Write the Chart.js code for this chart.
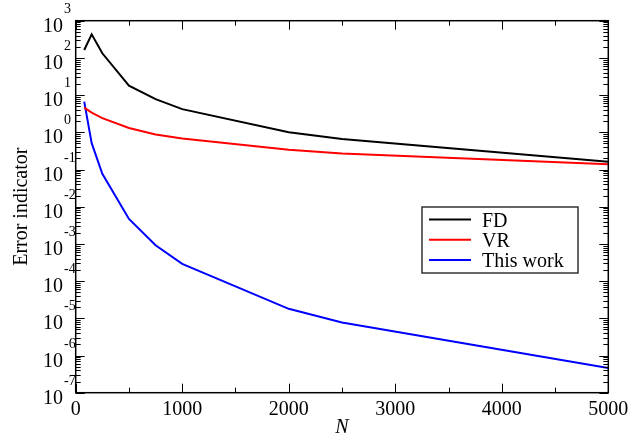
<!DOCTYPE html>
<html>
<head>
<meta charset="utf-8">
<script src="https://cdn.jsdelivr.net/npm/chart.js@4.4.1/dist/chart.umd.min.js"></script>
<style>
html,body{margin:0;padding:0;background:#fff;}
#wrap{width:643px;height:435px;}
</style>
</head>
<body>
<div id="wrap"><canvas id="c" width="643" height="435"></canvas></div>
<script>
// ---- data ----
const N = [80, 150, 250, 500, 750, 1000, 2000, 2500, 5000];
const FD = [163, 430, 133, 18, 7.8, 4.2, 1.0, 0.66, 0.162];
const VR = [4.6, 3.4, 2.4, 1.3, 0.87, 0.68, 0.34, 0.27, 0.138];
const THIS_WORK = [6.7, 0.51, 0.077, 0.0047, 9.2e-4, 2.9e-4, 1.8e-5, 7.7e-6, 4.6e-7];
const seriesNames = ['FD', 'VR', 'This work'];
const seriesColors = ['#000000', '#ff0000', '#0000ff'];
const xTicks = [0, 1000, 2000, 3000, 4000, 5000];
const xMinorTicks = [500, 1500, 2500, 3500, 4500];
const yExponents = [3, 2, 1, 0, -1, -2, -3, -4, -5, -6, -7];
const xTitle = 'N';
const yTitle = 'Error indicator';

const FONT = '"Liberation Serif", "Times New Roman", serif';

function pts(ys){ return N.map((n,i)=>({x:n, y:ys[i]})); }

const decorations = {
  id: 'decorations',
  afterDraw(chart){
    const ctx = chart.ctx;
    const a = chart.chartArea;
    const xs = chart.scales.x, ys = chart.scales.y;
    ctx.save();
    ctx.strokeStyle = '#000';
    ctx.fillStyle = '#000';
    // frame
    ctx.lineWidth = 1.5;
    ctx.strokeRect(a.left, a.top, a.right - a.left, a.bottom - a.top);
    ctx.lineWidth = 1;
    // x ticks (inward, top and bottom)
    ctx.beginPath();
    xTicks.forEach(v=>{
      const px = Math.round(xs.getPixelForValue(v)) + 0.5;
      ctx.moveTo(px, a.bottom); ctx.lineTo(px, a.bottom - 9);
      ctx.moveTo(px, a.top); ctx.lineTo(px, a.top + 9);
    });
    xMinorTicks.forEach(v=>{
      const px = Math.round(xs.getPixelForValue(v)) + 0.5;
      ctx.moveTo(px, a.bottom); ctx.lineTo(px, a.bottom - 5);
      ctx.moveTo(px, a.top); ctx.lineTo(px, a.top + 5);
    });
    // y ticks (log, inward, left and right)
    yExponents.forEach(e=>{
      const py = Math.round(ys.getPixelForValue(Math.pow(10,e))) + 0.5;
      ctx.moveTo(a.left, py); ctx.lineTo(a.left + 9, py);
      ctx.moveTo(a.right, py); ctx.lineTo(a.right - 9, py);
      if (e > -7) {
        for (let m = 2; m <= 9; m++) {
          const pm = Math.round(ys.getPixelForValue(m * Math.pow(10,e-1))) + 0.5;
          ctx.moveTo(a.left, pm); ctx.lineTo(a.left + 5, pm);
          ctx.moveTo(a.right, pm); ctx.lineTo(a.right - 5, pm);
        }
      }
    });
    ctx.stroke();
    // x tick labels
    ctx.font = '20px ' + FONT;
    ctx.textAlign = 'center';
    ctx.textBaseline = 'alphabetic';
    xTicks.forEach(v=>{
      ctx.fillText(String(v), xs.getPixelForValue(v), a.bottom + 22);
    });
    // y tick labels 10^e
    yExponents.forEach(e=>{
      const py = ys.getPixelForValue(Math.pow(10,e));
      ctx.font = '20px ' + FONT;
      ctx.textAlign = 'left';
      ctx.fillText('10', 43, py + 11);
      const w = ctx.measureText('10').width;
      ctx.font = '14px ' + FONT;
      ctx.fillText(String(e), 43 + w + 1, py - 8);
    });
    // axis titles
    ctx.font = 'italic 20px ' + FONT;
    ctx.textAlign = 'center';
    ctx.fillText(xTitle, (a.left + a.right) / 2, 433);
    ctx.save();
    ctx.translate(27, (a.top + a.bottom) / 2);
    ctx.rotate(-Math.PI / 2);
    ctx.font = '20px ' + FONT;
    ctx.fillText(yTitle, 0, 0);
    ctx.restore();
    // legend box
    const lx = 422, ly = 207, lw = 156, lh = 66;
    ctx.lineWidth = 1.5;
    ctx.strokeStyle = '#333';
    ctx.strokeRect(lx, ly, lw, lh);
    ctx.font = '20px ' + FONT;
    ctx.textAlign = 'left';
    chart.data.datasets.forEach((ds, i)=>{
      const cy = 219.5 + i * 20.3;
      ctx.strokeStyle = ds.borderColor;
      ctx.lineWidth = 2;
      ctx.beginPath();
      ctx.moveTo(429, cy); ctx.lineTo(471, cy);
      ctx.stroke();
      ctx.fillStyle = '#000';
      ctx.fillText(ds.label, 482, cy + 7);
    });
    ctx.restore();
  }
};

new Chart(document.getElementById('c'), {
  type: 'line',
  data: {
    datasets: [FD, VR, THIS_WORK].map((d, i)=>({
      label: seriesNames[i],
      data: pts(d),
      borderColor: seriesColors[i],
      backgroundColor: seriesColors[i],
      borderWidth: 2,
      pointRadius: 0,
      tension: 0,
      fill: false
    }))
  },
  options: {
    responsive: false,
    animation: false,
    devicePixelRatio: 1,
    layout: { padding: { left: 75.7, right: 34.7, top: 20.7, bottom: 42.3 } },
    plugins: { legend: { display: false }, tooltip: { enabled: false } },
    scales: {
      x: { type: 'linear', min: 0, max: 5000, display: false },
      y: { type: 'logarithmic', min: 1e-7, max: 1e3, display: false }
    }
  },
  plugins: [decorations]
});
</script>
</body>
</html>
